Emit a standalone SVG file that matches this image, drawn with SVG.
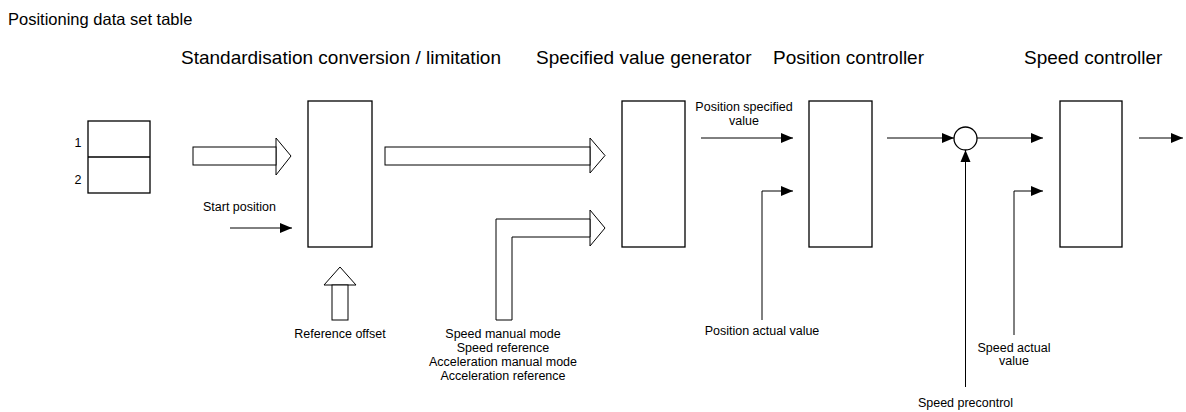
<svg xmlns="http://www.w3.org/2000/svg" width="1186" height="412" viewBox="0 0 1186 412">
<style>
text{font-family:"Liberation Sans",Arial,sans-serif;fill:#000}
.h{font-size:19px}
.t{font-size:16.5px}
.s{font-size:12.5px}
.box{fill:#fff;stroke:#000;stroke-width:1.3}
.hol{fill:#fff;stroke:#000;stroke-width:1}
.ln{fill:none;stroke:#000;stroke-width:1;marker-end:url(#ah)}
</style>
<defs>
<marker id="ah" markerUnits="userSpaceOnUse" markerWidth="13" markerHeight="11" refX="12" refY="5" orient="auto" overflow="visible">
<path d="M0,0 L12,5 L0,10 z" fill="#000"/>
</marker>
</defs>
<rect width="1186" height="412" fill="#fff"/>
<text class="t" x="8" y="25">Positioning data set table</text>
<text class="h" x="181" y="64">Standardisation conversion / limitation</text>
<text class="h" x="536" y="64">Specified value generator</text>
<text class="h" x="773" y="64">Position controller</text>
<text class="h" x="1024" y="64">Speed controller</text>

<g id="table">
<rect class="box" x="88" y="121" width="62" height="72"/>
<line x1="88" y1="157" x2="150" y2="157" stroke="#000" stroke-width="1.3"/>
<text class="s" x="78" y="147" text-anchor="middle">1</text>
<text class="s" x="78" y="184" text-anchor="middle">2</text>
</g>
<g id="standardisation">
<rect class="box" x="308" y="101" width="64" height="146"/>
</g>
<g id="generator">
<rect class="box" x="622" y="101" width="63" height="146"/>
</g>
<g id="position-controller">
<rect class="box" x="809" y="101" width="63" height="146"/>
</g>
<g id="summing-point">
<circle class="box" cx="965.5" cy="138.5" r="11.5" stroke-width="1"/>
</g>
<g id="speed-controller">
<rect class="box" x="1060" y="101" width="62" height="146"/>
</g>

<g id="connectors">
<polygon class="hol" points="276,138 291,156 276,175"/>
<rect class="hol" x="193" y="147" width="83" height="18"/>
<polygon class="hol" points="590,138 605,155.5 590,173"/>
<rect class="hol" x="385" y="147" width="205" height="18"/>
<polygon class="hol" points="590,210 605,228 590,246"/>
<path class="hol" d="M496,320 V219 H590 V237 H512 V320 Z"/>
<polygon class="hol" points="340,267 356,285 324,285"/>
<rect class="hol" x="332" y="285" width="16" height="35"/>
<line class="ln" x1="230" y1="228" x2="292" y2="228"/>
<line class="ln" x1="701" y1="138" x2="793" y2="138"/>
<polyline class="ln" points="762,320 762,191 793,191"/>
<line class="ln" x1="887" y1="138" x2="954" y2="138"/>
<line class="ln" x1="977" y1="138" x2="1043" y2="138"/>
<polyline class="ln" points="1014,335 1014,191 1043,191"/>
<line class="ln" x1="965.5" y1="387" x2="965.5" y2="150"/>
<line class="ln" x1="1139" y1="138" x2="1183" y2="138"/>
</g>

<text class="s" x="203" y="211">Start position</text>
<text class="s" x="340" y="338" text-anchor="middle">Reference offset</text>
<text class="s" x="503" y="338" text-anchor="middle">Speed manual mode</text>
<text class="s" x="503" y="352" text-anchor="middle">Speed reference</text>
<text class="s" x="503" y="366" text-anchor="middle">Acceleration manual mode</text>
<text class="s" x="503" y="380" text-anchor="middle">Acceleration reference</text>
<text class="s" x="744" y="111" text-anchor="middle">Position specified</text>
<text class="s" x="744" y="125" text-anchor="middle">value</text>
<text class="s" x="762" y="335" text-anchor="middle">Position actual value</text>
<text class="s" x="1014" y="352" text-anchor="middle">Speed actual</text>
<text class="s" x="1014" y="365" text-anchor="middle">value</text>
<text class="s" x="965.5" y="407" text-anchor="middle">Speed precontrol</text>
</svg>
